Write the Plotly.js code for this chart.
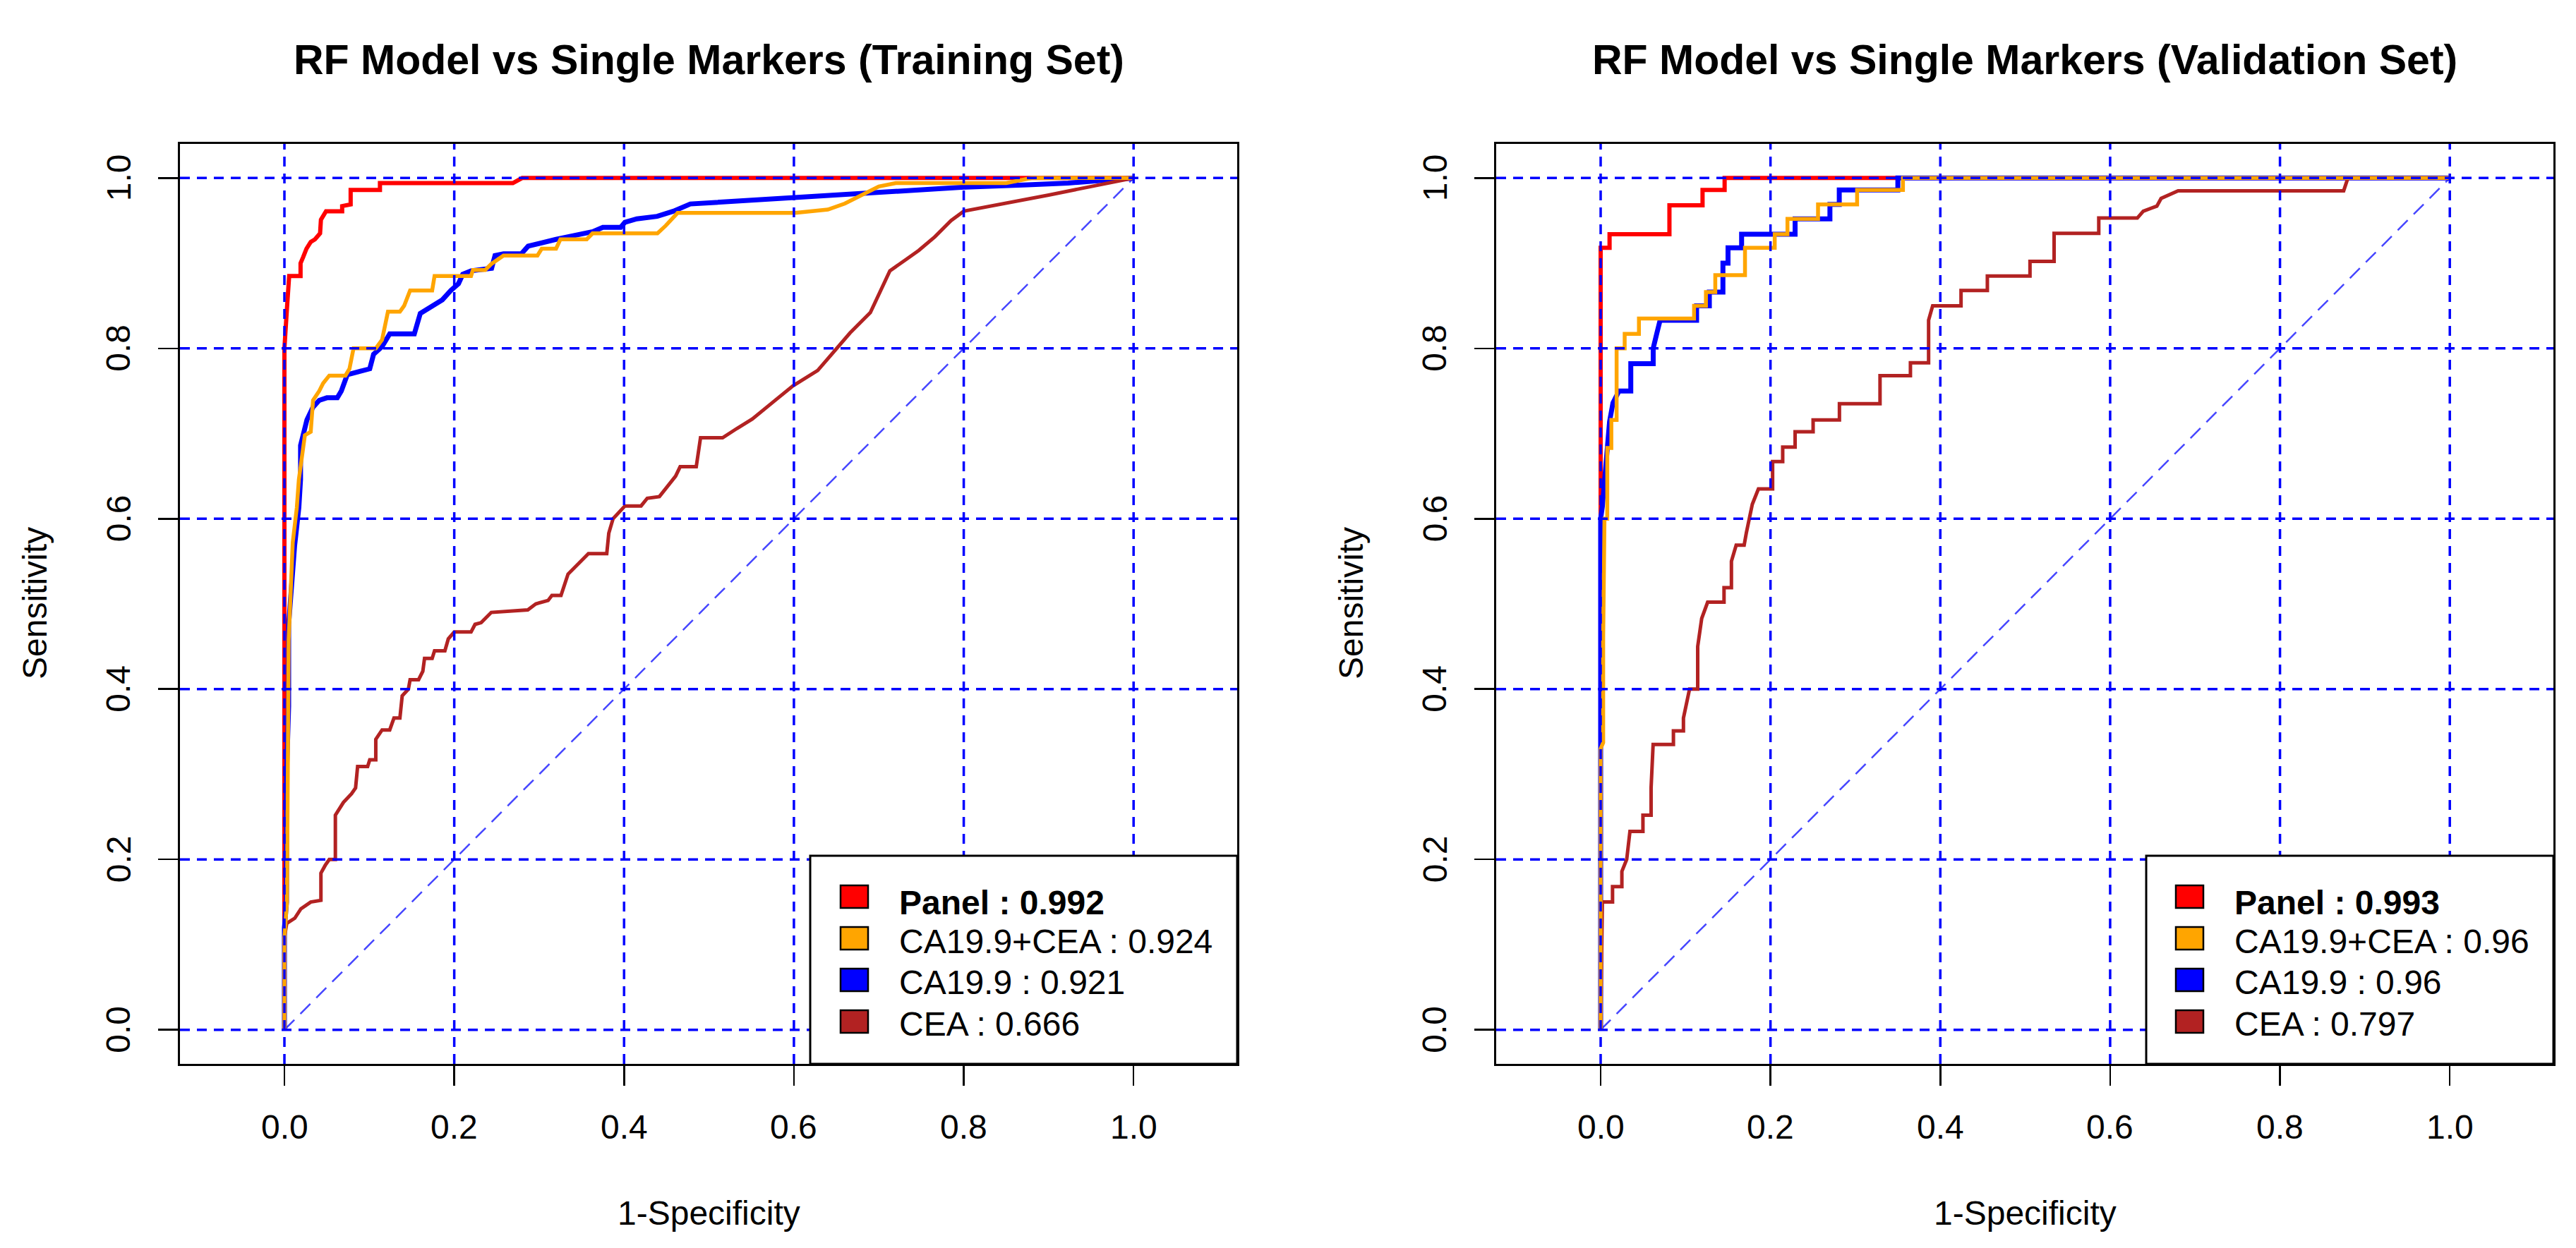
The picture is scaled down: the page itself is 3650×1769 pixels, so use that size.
<!DOCTYPE html>
<html>
<head>
<meta charset="utf-8">
<script src="https://cdn.plot.ly/plotly-3.0.1.min.js"></script>
<style>
html,body{margin:0;padding:0;background:#ffffff;}
#chart{width:3650px;height:1769px;}
</style>
</head>
<body>
<div id="chart"></div>
<script>
// ---------------- DATA ----------------
const tickVals = [0, 0.2, 0.4, 0.6, 0.8, 1.0];
const tickText = ["0.0", "0.2", "0.4", "0.6", "0.8", "1.0"];

const panelTitles = ["RF Model vs Single Markers (Training Set)", "RF Model vs Single Markers (Validation Set)"];
const xTitle = "1-Specificity";
const yTitle = "Sensitivity";

const seriesNames = ["Panel", "CA19.9+CEA", "CA19.9", "CEA"];
const aucTrain = ["0.992", "0.924", "0.921", "0.666"];
const aucValid = ["0.993", "0.96", "0.96", "0.797"];
const seriesColors = ["#FF0000", "#FFA500", "#0000FF", "#B22222"];

// Training set ROC curves (1-specificity, sensitivity)
const trainPanelFpr = [0, 0, 0.003, 0.0056, 0.019, 0.019, 0.022, 0.026, 0.031, 0.036, 0.042, 0.043, 0.049, 0.068, 0.068, 0.078, 0.078, 0.1125, 0.1125, 0.269, 0.28, 1];
const trainPanelTpr = [0, 0.8, 0.847, 0.885, 0.885, 0.9, 0.907, 0.917, 0.925, 0.928, 0.935, 0.951, 0.961, 0.961, 0.967, 0.969, 0.986, 0.986, 0.994, 0.994, 1, 1];

const trainComboFpr = [0, 0, 0.003, 0.004, 0.005, 0.005, 0.0098, 0.0146, 0.017, 0.0218, 0.0241, 0.031, 0.0337, 0.041, 0.0456, 0.0528, 0.0718, 0.0766, 0.0814, 0.1076, 0.115, 0.1219, 0.136, 0.141, 0.148, 0.174, 0.1768, 0.2198, 0.222, 0.2364, 0.2436, 0.258, 0.298, 0.303, 0.3199, 0.325, 0.356, 0.3629, 0.4393, 0.449, 0.463, 0.6015, 0.64, 0.66, 0.68, 0.70, 0.72, 0.85, 0.88, 1];
const trainComboTpr = [0, 0.108, 0.15, 0.3, 0.38, 0.457, 0.572, 0.613, 0.646, 0.686, 0.698, 0.702, 0.739, 0.75, 0.759, 0.768, 0.768, 0.776, 0.8, 0.8, 0.81, 0.843, 0.843, 0.85, 0.868, 0.868, 0.885, 0.885, 0.892, 0.892, 0.899, 0.909, 0.909, 0.917, 0.917, 0.928, 0.928, 0.935, 0.935, 0.944, 0.959, 0.959, 0.963, 0.97, 0.98, 0.99, 0.994, 0.994, 1, 1];

const trainCa199Fpr = [0, 0, 0.0025, 0.0025, 0.005, 0.005, 0.012, 0.017, 0.019, 0.019, 0.0265, 0.0337, 0.041, 0.05, 0.0623, 0.067, 0.074, 0.1005, 0.105, 0.115, 0.124, 0.153, 0.16, 0.174, 0.186, 0.196, 0.205, 0.21, 0.22, 0.244, 0.248, 0.258, 0.279, 0.287, 0.301, 0.32, 0.344, 0.363, 0.375, 0.396, 0.401, 0.415, 0.439, 0.458, 0.478, 0.536, 0.574, 0.632, 0.652, 0.729, 0.797, 0.875, 0.923, 1];
const trainCa199Tpr = [0, 0.12, 0.15, 0.3, 0.38, 0.476, 0.568, 0.613, 0.646, 0.686, 0.716, 0.731, 0.739, 0.742, 0.742, 0.75, 0.769, 0.776, 0.793, 0.802, 0.817, 0.817, 0.841, 0.85, 0.857, 0.868, 0.876, 0.887, 0.891, 0.894, 0.909, 0.911, 0.911, 0.92, 0.924, 0.928, 0.933, 0.937, 0.942, 0.942, 0.948, 0.952, 0.955, 0.961, 0.9695, 0.973, 0.975, 0.978, 0.98, 0.985, 0.989, 0.992, 0.994, 1];

const trainCeaFpr = [0, 0, 0.0027, 0.0122, 0.0194, 0.031, 0.043, 0.043, 0.048, 0.0528, 0.060, 0.060, 0.0695, 0.079, 0.0838, 0.0862, 0.098, 0.1005, 0.1076, 0.1076, 0.115, 0.124, 0.129, 0.136, 0.1387, 0.146, 0.148, 0.158, 0.163, 0.165, 0.174, 0.1768, 0.189, 0.193, 0.2, 0.2198, 0.2245, 0.2317, 0.2436, 0.2866, 0.296, 0.3105, 0.315, 0.3257, 0.334, 0.3486, 0.358, 0.3796, 0.382, 0.387, 0.401, 0.42, 0.4273, 0.4416, 0.4607, 0.466, 0.485, 0.49, 0.516, 0.533, 0.551, 0.578, 0.599, 0.628, 0.652, 0.666, 0.69, 0.713, 0.733, 0.747, 0.766, 0.785, 0.8, 0.85, 0.9, 0.95, 1];
const trainCeaTpr = [0, 0.108, 0.125, 0.131, 0.142, 0.15, 0.152, 0.184, 0.193, 0.2, 0.2, 0.252, 0.267, 0.277, 0.284, 0.309, 0.309, 0.317, 0.317, 0.341, 0.352, 0.352, 0.366, 0.366, 0.392, 0.4, 0.411, 0.411, 0.421, 0.436, 0.436, 0.445, 0.445, 0.459, 0.467, 0.467, 0.476, 0.478, 0.49, 0.493, 0.5, 0.504, 0.51, 0.51, 0.535, 0.55, 0.559, 0.559, 0.583, 0.6, 0.615, 0.615, 0.624, 0.626, 0.65, 0.661, 0.661, 0.695, 0.695, 0.706, 0.717, 0.739, 0.756, 0.774, 0.802, 0.818, 0.842, 0.891, 0.905, 0.915, 0.931, 0.95, 0.961, 0.97, 0.98, 0.99, 1];

// Validation set ROC curves (1-specificity, sensitivity)
const validPanelFpr = [0, 0, 0.0105, 0.0105, 0.081, 0.081, 0.12, 0.12, 0.146, 0.146, 1];
const validPanelTpr = [0, 0.918, 0.918, 0.934, 0.934, 0.968, 0.968, 0.986, 0.986, 1, 1];

const validComboFpr = [0, 0, 0.003, 0.003, 0.0045, 0.0078, 0.0078, 0.0126, 0.0126, 0.0188, 0.0188, 0.0283, 0.0283, 0.0451, 0.0451, 0.110, 0.110, 0.124, 0.124, 0.135, 0.135, 0.17, 0.17, 0.205, 0.205, 0.22, 0.22, 0.256, 0.256, 0.302, 0.302, 0.356, 0.356, 1];
const validComboTpr = [0, 0.33, 0.337, 0.46, 0.6, 0.6, 0.683, 0.683, 0.716, 0.716, 0.8, 0.8, 0.817, 0.817, 0.835, 0.835, 0.85, 0.85, 0.866, 0.866, 0.886, 0.886, 0.918, 0.918, 0.934, 0.934, 0.952, 0.952, 0.969, 0.969, 0.986, 0.986, 1, 1];

const validCa199Fpr = [0, 0, 0.002, 0.008, 0.0105, 0.0145, 0.0216, 0.0355, 0.0355, 0.0619, 0.0619, 0.066, 0.070, 0.113, 0.113, 0.128, 0.128, 0.144, 0.144, 0.15, 0.15, 0.166, 0.166, 0.229, 0.229, 0.27, 0.27, 0.281, 0.281, 0.35, 0.35, 1];
const validCa199Tpr = [0, 0.6, 0.614, 0.684, 0.714, 0.736, 0.75, 0.75, 0.782, 0.782, 0.8, 0.817, 0.833, 0.833, 0.85, 0.85, 0.866, 0.866, 0.9, 0.9, 0.918, 0.918, 0.934, 0.934, 0.952, 0.952, 0.969, 0.969, 0.986, 0.986, 1, 1];

const validCeaFpr = [0, 0.002, 0.002, 0.014, 0.014, 0.025, 0.025, 0.0307, 0.0345, 0.0498, 0.0498, 0.0594, 0.0594, 0.0618, 0.0857, 0.0857, 0.0975, 0.0975, 0.1047, 0.1143, 0.1143, 0.119, 0.126, 0.1453, 0.1453, 0.154, 0.154, 0.1596, 0.169, 0.1715, 0.1786, 0.1858, 0.2025, 0.2025, 0.2144, 0.2144, 0.229, 0.229, 0.2502, 0.2502, 0.2812, 0.2812, 0.329, 0.329, 0.3648, 0.3648, 0.3862, 0.3862, 0.391, 0.4244, 0.4244, 0.4554, 0.4554, 0.5056, 0.5056, 0.534, 0.534, 0.5866, 0.5866, 0.632, 0.639, 0.655, 0.66, 0.68, 0.875, 0.88, 1];
const validCeaTpr = [0, 0.131, 0.15, 0.15, 0.168, 0.168, 0.186, 0.2, 0.233, 0.233, 0.252, 0.252, 0.284, 0.335, 0.335, 0.351, 0.351, 0.366, 0.4, 0.4, 0.45, 0.483, 0.502, 0.502, 0.519, 0.519, 0.55, 0.569, 0.569, 0.583, 0.617, 0.635, 0.635, 0.667, 0.667, 0.684, 0.684, 0.702, 0.702, 0.716, 0.716, 0.735, 0.735, 0.768, 0.768, 0.783, 0.783, 0.833, 0.85, 0.85, 0.868, 0.868, 0.885, 0.885, 0.902, 0.902, 0.935, 0.935, 0.953, 0.953, 0.961, 0.967, 0.976, 0.985, 0.985, 1, 1];

// ---------------- LAYOUT / DRAWING ----------------
const W = 3650, H = 1769;
const pX = v => v / W;
const pY = v => 1 - v / H;
const FONT = "Liberation Sans, Arial, Helvetica, sans-serif";

const xRange = [-0.123, 1.122];
const yRange = [-0.04, 1.04];
const boxTop = 204, boxBottom = 1508;
const xTickLabelCy = 1597;

const panels = [
  {xa: "x", ya: "y", boxL: 255, boxR: 1753, titleCx: 1004, yLabCx: 50, yTickCx: 168, legL: 1148, sqL: 1191, txtL: 1274,
   title: panelTitles[0], auc: aucTrain,
   curves: [[trainPanelFpr, trainPanelTpr], [trainComboFpr, trainComboTpr], [trainCa199Fpr, trainCa199Tpr], [trainCeaFpr, trainCeaTpr]]},
  {xa: "x2", ya: "y2", boxL: 2120, boxR: 3618, titleCx: 2869, yLabCx: 1915, yTickCx: 2033, legL: 3041, sqL: 3083, txtL: 3166,
   title: panelTitles[1], auc: aucValid,
   curves: [[validPanelFpr, validPanelTpr], [validComboFpr, validComboTpr], [validCa199Fpr, validCa199Tpr], [validCeaFpr, validCeaTpr]]}
];

const lineWidths = [6, 5.5, 7, 5];
const drawOrder = [0, 2, 3, 1]; // Panel, CA19.9, CEA, CA19.9+CEA (orange on top)

const traces = [];
const shapes = [];
const annotations = [];

panels.forEach((p, k) => {
  // diagonal reference line
  traces.push({
    x: [tickVals[0], tickVals[tickVals.length - 1]], y: [tickVals[0], tickVals[tickVals.length - 1]],
    xaxis: p.xa, yaxis: p.ya, mode: "lines", hoverinfo: "skip", showlegend: false,
    line: {color: "rgb(70,70,255)", width: 2.5, dash: "20px,12px"}
  });
  drawOrder.forEach(i => {
    traces.push({
      x: p.curves[i][0], y: p.curves[i][1], xaxis: p.xa, yaxis: p.ya,
      mode: "lines", name: seriesNames[i], showlegend: false, hoverinfo: "skip",
      line: {color: seriesColors[i], width: lineWidths[i], shape: "linear"}
    });
  });
  // dashed grid drawn above the curves (as grid() after plotting)
  tickVals.forEach(v => {
    shapes.push({type: "line", layer: "above", xref: p.xa, yref: p.ya, x0: v, x1: v, y0: yRange[0], y1: yRange[1],
      line: {color: "#0000FF", width: 3.5, dash: "14px,10px"}});
    shapes.push({type: "line", layer: "above", xref: p.xa, yref: p.ya, x0: xRange[0], x1: xRange[1], y0: v, y1: v,
      line: {color: "#0000FF", width: 3.5, dash: "14px,10px"}});
  });
  // tick labels placed through the axis scales
  tickVals.forEach((v, j) => {
    annotations.push({xref: p.xa, yref: "paper", x: v, y: pY(xTickLabelCy), xanchor: "center", yanchor: "middle",
      showarrow: false, borderpad: 0, text: tickText[j], font: {family: FONT, size: 48, color: "#000000"}});
    annotations.push({xref: "paper", yref: p.ya, x: pX(p.yTickCx), y: v, xanchor: "center", yanchor: "middle",
      showarrow: false, borderpad: 0, textangle: -90, text: tickText[j], font: {family: FONT, size: 48, color: "#000000"}});
  });
});

// legends (drawn after the grid)
const legTop = 1213;
const rowC = [1271, 1330, 1389, 1448];
const txtC = [1279, 1334, 1392, 1451];
panels.forEach(p => {
  shapes.push({type: "rect", layer: "above", xref: "paper", yref: "paper",
    x0: pX(p.legL), x1: pX(p.boxR), y0: pY(boxBottom), y1: pY(legTop),
    fillcolor: "#FFFFFF", line: {color: "#000000", width: 3}});
  seriesNames.forEach((nm, i) => {
    shapes.push({type: "rect", layer: "above", xref: "paper", yref: "paper",
      x0: pX(p.sqL), x1: pX(p.sqL + 39), y0: pY(rowC[i] + 16), y1: pY(rowC[i] - 16),
      fillcolor: seriesColors[i], line: {color: "#000000", width: 2.5}});
    annotations.push({xref: "paper", yref: "paper", x: pX(p.txtL), y: pY(txtC[i]),
      xanchor: "left", yanchor: "middle", showarrow: false, borderpad: 0, borderwidth: 0,
      text: nm + " : " + p.auc[i],
      font: {family: FONT, size: 48, color: "#000000", weight: i === 0 ? "bold" : "normal"}});
  });
  // panel title
  annotations.push({xref: "paper", yref: "paper", x: pX(p.titleCx), y: pY(85), xanchor: "center", yanchor: "middle",
    showarrow: false, text: p.title, font: {family: FONT, size: 59, color: "#000000", weight: "bold"}});
  // axis titles
  annotations.push({xref: "paper", yref: "paper", x: pX((p.boxL + p.boxR) / 2), y: pY(1719), xanchor: "center", yanchor: "middle",
    showarrow: false, text: xTitle, font: {family: FONT, size: 48, color: "#000000"}});
  annotations.push({xref: "paper", yref: "paper", x: pX(p.yLabCx), y: pY(855), xanchor: "center", yanchor: "middle",
    showarrow: false, textangle: -90, text: yTitle, font: {family: FONT, size: 48, color: "#000000"}});
});

function xAxis(p, anchor) {
  return {domain: [pX(p.boxL), pX(p.boxR)], range: xRange, anchor: anchor, autorange: false,
    tickmode: "array", tickvals: tickVals, ticktext: tickText, ticks: "outside", ticklen: 28, tickwidth: 2.5,
    tickcolor: "#000000", showline: true, linecolor: "#000000", linewidth: 3, mirror: true, showticklabels: false,
    showgrid: false, zeroline: false, fixedrange: true};
}
function yAxis(anchor) {
  return {domain: [pY(boxBottom), pY(boxTop)], range: yRange, anchor: anchor, autorange: false,
    tickmode: "array", tickvals: tickVals, ticktext: tickText, ticks: "outside", ticklen: 28, tickwidth: 2.5,
    tickcolor: "#000000", showline: true, linecolor: "#000000", linewidth: 3, mirror: true, showticklabels: false,
    showgrid: false, zeroline: false, fixedrange: true};
}

const layout = {
  width: W, height: H,
  margin: {l: 0, r: 0, t: 0, b: 0, pad: 0},
  paper_bgcolor: "#FFFFFF", plot_bgcolor: "#FFFFFF",
  showlegend: false,
  font: {family: FONT, size: 48, color: "#000000"},
  xaxis: xAxis(panels[0], "y"),
  yaxis: yAxis("x"),
  xaxis2: xAxis(panels[1], "y2"),
  yaxis2: yAxis("x2"),
  shapes: shapes,
  annotations: annotations
};

Plotly.newPlot("chart", traces, layout, {displayModeBar: false, staticPlot: true});
</script>
</body>
</html>
